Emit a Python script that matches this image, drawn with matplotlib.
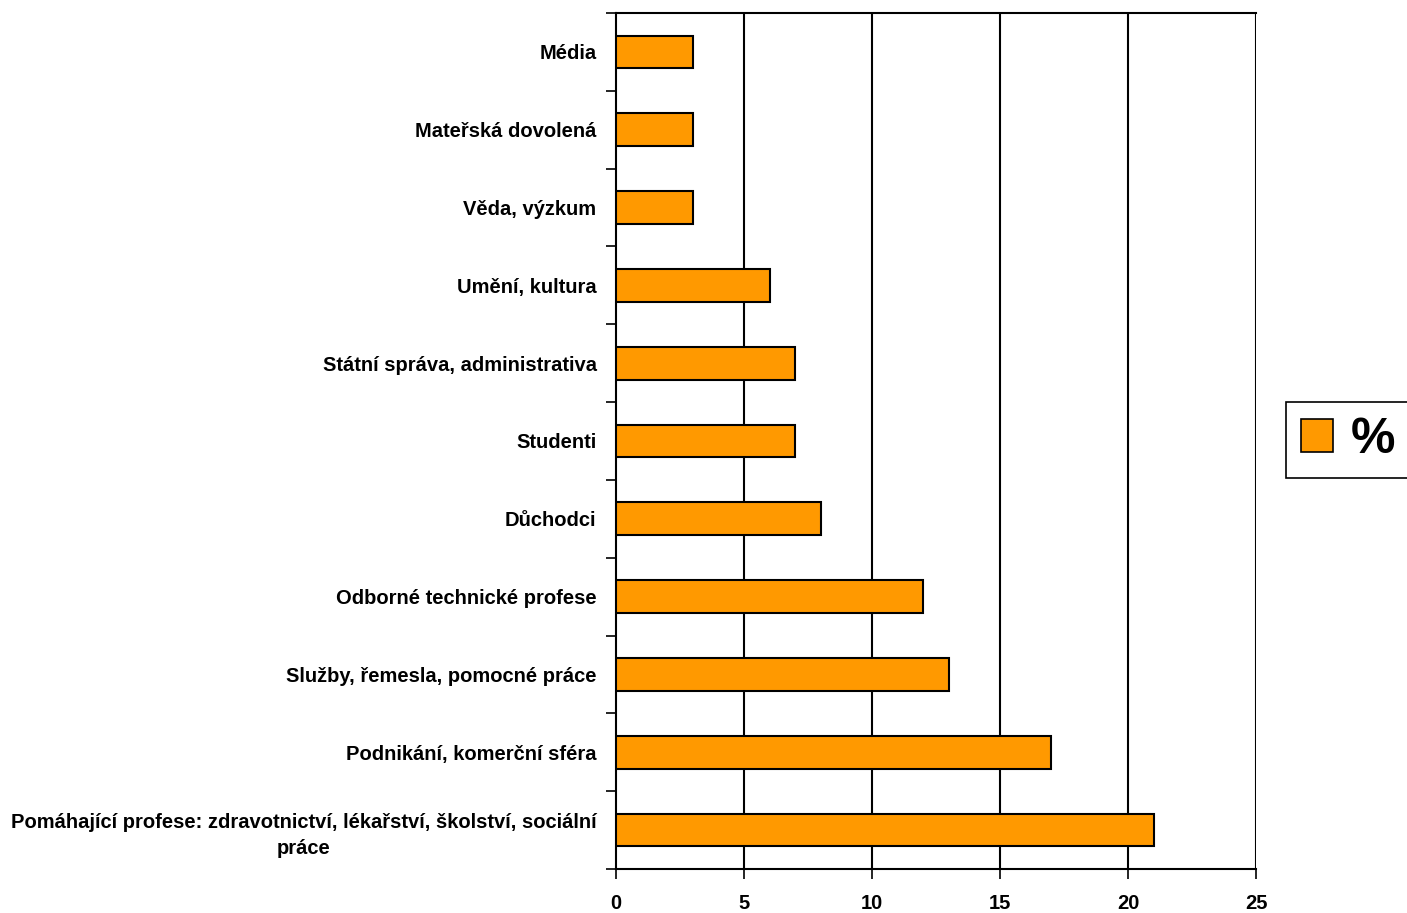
import matplotlib
matplotlib.use("Agg")
from matplotlib import pyplot as plt
from matplotlib.patches import Patch

categories = [
    "Média",
    "Mateřská dovolená",
    "Věda, výzkum",
    "Umění, kultura",
    "Státní správa, administrativa",
    "Studenti",
    "Důchodci",
    "Odborné technické profese",
    "Služby, řemesla, pomocné práce",
    "Podnikání, komerční sféra",
    "Pomáhající profese: zdravotnictví, lékařství, školství, sociální\npráce",
]
values = [3, 3, 3, 6, 7, 7, 8, 12, 13, 17, 21]
xticks = [0, 5, 10, 15, 20, 25]

plt.rcParams["font.family"] = ["Liberation Sans", "DejaVu Sans"]
plt.rcParams["font.weight"] = "bold"

fig = plt.figure(figsize=(14.07, 9.13), dpi=100)
ax = fig.add_axes([616 / 1407, 1 - 869 / 913, 640 / 1407, 856 / 913])

n = len(categories)
ax.barh(range(n), values, height=0.42, color="#FF9900", edgecolor="black",
        linewidth=1.5, zorder=3)
ax.set_ylim(n - 0.5, -0.5)
ax.set_xlim(0, 25)

for x in xticks[1:]:
    ax.axvline(x, color="black", linewidth=1.5, zorder=1)

ax.set_xticks(xticks)
ax.set_xticklabels([str(x) for x in xticks], fontsize=14.5, fontweight="bold")
ax.tick_params(axis="x", direction="out", length=7, width=1.2, pad=11)

# category labels sit at bar centres, ticks sit on the boundaries between them
ax.set_yticks(range(n))
ax.set_yticklabels(categories, fontsize=14.5, fontweight="bold",
                   multialignment="center", linespacing=1.45)
ax.tick_params(axis="y", which="major", length=0, pad=14)
ax.set_yticks([i - 0.5 for i in range(n + 1)], minor=True)
ax.tick_params(axis="y", which="minor", direction="out", length=7, width=1.2)

for side in ["left", "top", "bottom"]:
    ax.spines[side].set_linewidth(1.5)
ax.spines["right"].set_visible(False)

handle = Patch(facecolor="#FF9900", edgecolor="black", linewidth=1.2)
leg = fig.legend([handle], ["%"], loc="center", bbox_to_anchor=(1348 / 1407, 1 - 440 / 913),
                 prop={"size": 36, "weight": "bold"}, frameon=True, fancybox=False,
                 framealpha=1, handlelength=0.65, handleheight=0.65, handletextpad=0.35,
                 borderpad=0.3, borderaxespad=0)
leg.get_frame().set_edgecolor("black")
leg.get_frame().set_linewidth(1.2)

fig.savefig("out.png", dpi=100)
